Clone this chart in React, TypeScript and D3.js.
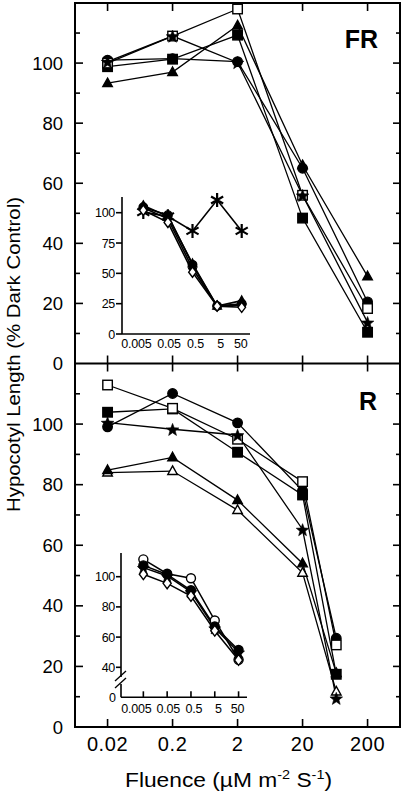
import React from 'react';
import * as d3 from 'd3';

// ---------- data ----------
const FLUENCE_FR = [0.02, 0.2, 2, 20, 200];
const FLUENCE_R = [0.02, 0.2, 2, 20, 66];

const FR_CIRCLE = [101, 101.5, 100.5, 65, 20.5];
const FR_TRIANGLE = [93.3, 97, 112.5, 66, 29];
const FR_SQUARE = [98.8, 101.3, 109.3, 48.4, 10.4];
const FR_OPEN_SQUARE = [100, 109, 118, 56, 18.3];
const FR_STAR = [100.5, 109, 100.2, 56, 13.7];

const R_CIRCLE = [99.1, 110.1, 100.4, 78, 29.3];
const R_OPEN_SQUARE = [112.9, 105.2, 95, 81, 27.1];
const R_SQUARE = [103.9, 105, 90.7, 76.6, 17.4];
const R_STAR = [100.5, 98.3, 96.4, 65.2, 9.5];
const R_TRIANGLE = [84.8, 89, 74.9, 54, 17.8];
const R_OPEN_TRIANGLE = [84, 84.5, 71.6, 50.9, 11.7];

const INSET_FLUENCE = [0.005, 0.05, 0.5, 5, 50];
const INSET_X_LABELS = ['0.005', '0.05', '0.5', '5', '50'];

const IFR_TRIANGLE = [106, 97, 58, 23, 27.5];
const IFR_CIRCLE = [104.5, 98, 57, 23, 25];
const IFR_DIAMOND = [104, 95, 54, 23, 24];
const IFR_OPEN_DIAMOND = [102, 92, 51, 23, 22];
const IFR_ASTERISK = [100.5, 97, 85, 110.5, 85];

const IR_OPEN_CIRCLE = [111.5, 102, 99, 71, 45];
const IR_CIRCLE = [107.5, 101.5, 91, 67, 51.5];
const IR_STAR = [106, 100.5, 90, 66, 50];
const IR_OPEN_DIAMOND = [101.6, 95.6, 87.2, 64.2, 44.8];

const MAIN_X_TICKS = [0.02, 0.2, 2, 20, 200];
const MAIN_X_LABELS = ['0.02', '0.2', '2', '20', '200'];
const MAIN_Y_MAJOR = [0, 20, 40, 60, 80, 100];
const MAIN_Y_MINOR = [10, 30, 50, 70, 90, 110];
const IFR_Y_TICKS = [0, 25, 50, 75, 100];
const IR_Y_TICKS = [40, 60, 80, 100];

type MType = 'circle' | 'square' | 'triangle' | 'star' | 'diamond' | 'asterisk';
interface Series { values: number[]; type: MType; open: boolean; }

const FR_SERIES: Series[] = [
  { values: FR_TRIANGLE, type: 'triangle', open: false },
  { values: FR_SQUARE, type: 'square', open: false },
  { values: FR_CIRCLE, type: 'circle', open: false },
  { values: FR_OPEN_SQUARE, type: 'square', open: true },
  { values: FR_STAR, type: 'star', open: false },
];
const R_SERIES: Series[] = [
  { values: R_OPEN_TRIANGLE, type: 'triangle', open: true },
  { values: R_TRIANGLE, type: 'triangle', open: false },
  { values: R_SQUARE, type: 'square', open: false },
  { values: R_CIRCLE, type: 'circle', open: false },
  { values: R_OPEN_SQUARE, type: 'square', open: true },
  { values: R_STAR, type: 'star', open: false },
];
const IFR_SERIES: Series[] = [
  { values: IFR_ASTERISK, type: 'asterisk', open: false },
  { values: IFR_TRIANGLE, type: 'triangle', open: false },
  { values: IFR_CIRCLE, type: 'circle', open: false },
  { values: IFR_DIAMOND, type: 'diamond', open: false },
  { values: IFR_OPEN_DIAMOND, type: 'diamond', open: true },
];
const IR_SERIES: Series[] = [
  { values: IR_OPEN_CIRCLE, type: 'circle', open: true },
  { values: IR_CIRCLE, type: 'circle', open: false },
  { values: IR_STAR, type: 'star', open: false },
  { values: IR_OPEN_DIAMOND, type: 'diamond', open: true },
];

// ---------- layout ----------
const W = 405, H = 795;
const L = 75, R = 400, TOP = 3, MID = 363.5, BOT = 727;
const FONT = "'Liberation Sans', Arial, Helvetica, sans-serif";
const INSET_LABEL_NUDGE = [-7, 1, 3, 3.5, -1];

const x = d3.scaleLog().domain([Math.pow(10, -2.2), Math.pow(10, 2.8)]).range([L, R]);
const yTop = d3.scaleLinear().domain([0, 120]).range([MID, TOP]);
const yBot = d3.scaleLinear().domain([0, 120]).range([BOT, MID]);

const IFR = { l: 122, r: 250, top: 197, bottom: 334 };
const ixTop = d3.scaleLog().domain([Math.pow(10, -3.167), Math.pow(10, 2.036)]).range([IFR.l, IFR.r]);
const iyTop = d3.scaleLinear().domain([0, 100]).range([IFR.bottom, 212.7]);

const IR = { l: 121, r: 247, top: 553, bottom: 697.3 };
const ixBot = d3.scaleLog().domain([Math.pow(10, -3.24), Math.pow(10, 2.053)]).range([IR.l, IR.r]);
const iyBot = d3.scaleLinear().domain([40, 100]).range([667.3, 576.7]);

function starPath(cx: number, cy: number, ro: number) {
  const ri = ro * 0.42;
  const pts: string[] = [];
  for (let i = 0; i < 10; i++) {
    const r = i % 2 === 0 ? ro : ri;
    const a = -Math.PI / 2 + (i * Math.PI) / 5;
    pts.push(`${cx + r * Math.cos(a)},${cy + r * Math.sin(a)}`);
  }
  return 'M' + pts.join('L') + 'Z';
}

function Marker({ type, cx, cy, s, open }: { type: MType; cx: number; cy: number; s: number; open: boolean }) {
  const fill = open ? '#fff' : '#000';
  const sw = 1.4;
  switch (type) {
    case 'circle':
      return <circle cx={cx} cy={cy} r={s / 2} fill={fill} stroke="#000" strokeWidth={sw} />;
    case 'square':
      return <rect x={cx - s / 2} y={cy - s / 2} width={s} height={s} fill={fill} stroke="#000" strokeWidth={sw} />;
    case 'triangle': {
      const h = s * 0.9;
      return <path d={`M${cx},${cy - h * 0.6}L${cx + s / 2},${cy + h * 0.4}L${cx - s / 2},${cy + h * 0.4}Z`} fill={fill} stroke="#000" strokeWidth={sw} />;
    }
    case 'diamond':
      return <path d={`M${cx},${cy - s * 0.6}L${cx + s * 0.45},${cy}L${cx},${cy + s * 0.6}L${cx - s * 0.45},${cy}Z`} fill={fill} stroke="#000" strokeWidth={sw} />;
    case 'star':
      return <path d={starPath(cx, cy + 0.8, s * 0.7)} fill="#000" stroke="#000" strokeWidth={0.6} />;
    case 'asterisk': {
      const r = s / 2;
      const lines = [0, 60, 120].map((deg) => {
        const a = (deg * Math.PI) / 180 + Math.PI / 2;
        return `M${cx - r * Math.cos(a)},${cy - r * Math.sin(a)}L${cx + r * Math.cos(a)},${cy + r * Math.sin(a)}`;
      });
      return <path d={lines.join('')} stroke="#000" strokeWidth={2.2} fill="none" />;
    }
  }
  return null;
}

function SeriesGroup({ series, xs, xScale, yScale, size, lw }: {
  series: Series[]; xs: number[]; xScale: (v: number) => number; yScale: (v: number) => number; size: number; lw: number;
}) {
  const line = d3.line<number>().x((_, i) => xScale(xs[i])).y((d) => yScale(d));
  return (
    <g>
      {series.map((s, k) => (
        <path key={'l' + k} d={line(s.values) || ''} fill="none" stroke="#000" strokeWidth={lw} />
      ))}
      {series.map((s, k) => (
        <g key={'m' + k}>
          {s.values.map((v, i) => (
            <Marker key={i} type={s.type} cx={xScale(xs[i])} cy={yScale(v)} s={s.type === 'asterisk' ? 14 : size} open={s.open} />
          ))}
        </g>
      ))}
    </g>
  );
}

export default function App() {
  return (
    <svg width={W} height={H} viewBox={`0 0 ${W} ${H}`} style={{ position: 'absolute', left: 0, top: 0, background: '#fff' }}
      fontFamily={FONT}>
      <rect x={0} y={0} width={W} height={H} fill="#fff" />
      {/* frame */}
      <rect x={L} y={TOP} width={R - L} height={BOT - TOP} fill="none" stroke="#000" strokeWidth={2} />
      <line x1={L} x2={R} y1={MID} y2={MID} stroke="#000" strokeWidth={2} />

      {/* x ticks */}
      {MAIN_X_TICKS.map((t, i) => (
        <g key={'xt' + i} stroke="#000" strokeWidth={1.6}>
          <line x1={x(t)} x2={x(t)} y1={TOP} y2={TOP + 8} />
          <line x1={x(t)} x2={x(t)} y1={MID - 8} y2={MID + 8} />
          <line x1={x(t)} x2={x(t)} y1={BOT} y2={BOT - 8} />
        </g>
      ))}
      {MAIN_X_TICKS.map((t, i) => (
        <text key={'xl' + i} x={x(t)} y={751} fontSize={20} letterSpacing={0.6} textAnchor="middle">{MAIN_X_LABELS[i]}</text>
      ))}

      {/* y ticks */}
      {[yTop, yBot].map((ys, p) => (
        <g key={'yp' + p} stroke="#000" strokeWidth={1.6}>
          {MAIN_Y_MAJOR.filter((t) => !(p === 0 && t === 0)).map((t) => (
            <g key={'M' + t}>
              <line x1={L} x2={L + 8} y1={ys(t)} y2={ys(t)} />
              <line x1={R} x2={R - 7} y1={ys(t)} y2={ys(t)} />
            </g>
          ))}
          {MAIN_Y_MINOR.map((t) => (
            <g key={'m' + t}>
              <line x1={L} x2={L + 5} y1={ys(t)} y2={ys(t)} />
              <line x1={R} x2={R - 4} y1={ys(t)} y2={ys(t)} />
            </g>
          ))}
        </g>
      ))}
      {MAIN_Y_MAJOR.map((t) => (
        <text key={'ylt' + t} x={63} y={yTop(t)} dy="0.36em" fontSize={18.5} textAnchor="end">{t}</text>
      ))}
      {MAIN_Y_MAJOR.map((t) => (
        <text key={'ylb' + t} x={63} y={yBot(t)} dy="0.36em" fontSize={18.5} textAnchor="end">{t}</text>
      ))}

      {/* axis titles */}
      <text transform="translate(20,354.5) rotate(-90)" fontSize={19} textAnchor="middle"
        textLength={315} lengthAdjust="spacingAndGlyphs">Hypocotyl Length (% Dark Control)</text>
      <text x={228.5} y={787} fontSize={20.5} textAnchor="middle" textLength={207} lengthAdjust="spacingAndGlyphs">
        Fluence (µM m<tspan fontSize={13} dy={-8}>-2</tspan><tspan dy={8}> S</tspan><tspan fontSize={13} dy={-8}>-1</tspan><tspan dy={8}>)</tspan>
      </text>

      {/* panel labels */}
      <text x={378} y={48} fontSize={25} fontWeight="bold" textAnchor="end">FR</text>
      <text x={377} y={410} fontSize={25} fontWeight="bold" textAnchor="end">R</text>

      {/* main data */}
      <SeriesGroup series={FR_SERIES} xs={FLUENCE_FR} xScale={x} yScale={yTop} size={9.5} lw={1.3} />
      <SeriesGroup series={R_SERIES} xs={FLUENCE_R} xScale={x} yScale={yBot} size={9.5} lw={1.3} />

      {/* top inset */}
      <g stroke="#000" strokeWidth={1.6}>
        <line x1={IFR.l} x2={IFR.l} y1={IFR.top} y2={IFR.bottom} />
        <line x1={IFR.l} x2={IFR.r} y1={IFR.bottom} y2={IFR.bottom} />
        {IFR_Y_TICKS.map((t) => (
          <line key={t} x1={IFR.l - 6} x2={IFR.l} y1={iyTop(t)} y2={iyTop(t)} />
        ))}
      </g>
      {IFR_Y_TICKS.map((t) => (
        <text key={'ify' + t} x={115} y={iyTop(t)} dy="0.36em" fontSize={12.5} textAnchor="end" letterSpacing={-0.3}>{t}</text>
      ))}
      {INSET_FLUENCE.map((t, i) => (
        <text key={'ifx' + i} x={ixTop(t) + INSET_LABEL_NUDGE[i]} y={348} fontSize={12.5} textAnchor="middle" letterSpacing={-0.2}>{INSET_X_LABELS[i]}</text>
      ))}
      <SeriesGroup series={IFR_SERIES} xs={INSET_FLUENCE} xScale={ixTop} yScale={iyTop} size={8.5} lw={1.6} />

      {/* bottom inset */}
      <g stroke="#000" strokeWidth={1.6}>
        <line x1={IR.l} x2={IR.l} y1={IR.top} y2={677} />
        <line x1={IR.l} x2={IR.l} y1={684} y2={IR.bottom} />
        <line x1={115} x2={126} y1={681} y2={671} strokeWidth={1.3} />
        <line x1={115} x2={126} y1={688} y2={678} strokeWidth={1.3} />
        <line x1={IR.l} x2={IR.r} y1={IR.bottom} y2={IR.bottom} />
        {IR_Y_TICKS.map((t) => (
          <line key={t} x1={IR.l - 5} x2={IR.l} y1={iyBot(t)} y2={iyBot(t)} />
        ))}
        {INSET_FLUENCE.map((t, i) => (
          <line key={'ibt' + i} x1={ixBot(t)} x2={ixBot(t)} y1={IR.bottom} y2={IR.bottom - 6} />
        ))}
      </g>
      {IR_Y_TICKS.map((t) => (
        <text key={'iry' + t} x={115} y={iyBot(t)} dy="0.36em" fontSize={12.5} textAnchor="end" letterSpacing={-0.3}>{t}</text>
      ))}
      <text x={116} y={IR.bottom} dy="0.36em" fontSize={12.5} textAnchor="end">0</text>
      {INSET_FLUENCE.map((t, i) => (
        <text key={'irx' + i} x={ixBot(t) + INSET_LABEL_NUDGE[i]} y={713} fontSize={12.5} textAnchor="middle" letterSpacing={-0.2}>{INSET_X_LABELS[i]}</text>
      ))}
      <SeriesGroup series={IR_SERIES} xs={INSET_FLUENCE} xScale={ixBot} yScale={iyBot} size={9} lw={1.5} />
    </svg>
  );
}
